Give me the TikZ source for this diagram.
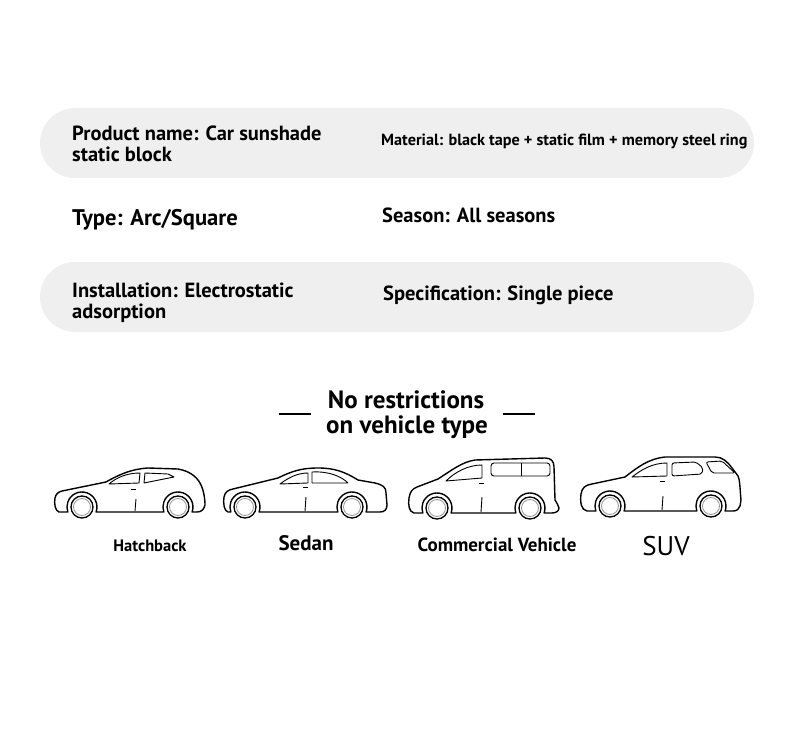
\documentclass[tikz,border=0pt]{standalone}
\usepackage{fontspec}
\setmainfont{PT Sans}
\definecolor{panelgray}{RGB}{239,239,239}
\definecolor{hubgray}{RGB}{150,150,150}
\def\wheel(#1,#2){\draw[line width=1.3pt] (#1,#2) circle (11pt); \draw[line width=0.8pt, color=hubgray] (#1,#2) circle (8.5pt);}
\tikzset{
  spec/.style={anchor=base west, inner sep=0pt, font=\bfseries\fontsize{20.5}{24}\selectfont},
  cartype/.style={anchor=base, inner sep=0pt, font=\bfseries\fontsize{16.5}{19}\selectfont},
  carline/.style={line width=1.4pt, line join=round},
  trim/.style={line width=0.9pt, line join=round}
}

\begin{document}
\begin{tikzpicture}[x=1pt, y=-1pt]
			%%%%% START %%%%%
			\useasboundingbox (0,0) rectangle (790,730);
			
			\fill[panelgray, rounded corners=35pt] (40,108) rectangle (754,178);
			\fill[panelgray, rounded corners=35pt] (40,262) rectangle (754,332);
			
			\node[spec] (prodname) at (72,141) {Product name: Car sunshade};
			\node[spec] (prodname2) at (72,162) {static block};
			\node[spec, font=\bfseries\fontsize{16.2}{19}\selectfont] (material) at (381,146) {Material: black tape + static film + memory steel ring};
			\node[spec, font=\bfseries\fontsize{22.6}{26}\selectfont] (type) at (72,226) {Type: Arc/Square};
			\node[spec] (season) at (382,223) {Season: All seasons};
			\node[spec] (install) at (72,297) {Installation: Electrostatic};
			\node[spec] (install2) at (72,318) {adsorption};
			\node[spec] (spec) at (383,300) {Specification: Single piece};
			
			\node[anchor=base, inner sep=0pt, font=\bfseries\fontsize{25}{29}\selectfont] (title) at (406,408) {No restrictions};
			\node[anchor=base, inner sep=0pt, font=\bfseries\fontsize{25}{29}\selectfont] (title2) at (407,433) {on vehicle type};
			\draw[line width=1.5pt] (279,414) -- (311,414);
			\draw[line width=1.5pt] (503,414) -- (535,414);
			
			% hatchback
			\draw[carline] (67.9,512) -- (59,512) .. controls (55,511) and (54,503) .. (55,498) .. controls (56,494) and (58,492) .. (62,491)
				-- (106,482) .. controls (120,474) and (132,469) .. (148,468) -- (178,469) .. controls (189,471) and (196,476) .. (200,483)
				.. controls (204,490) and (205,500) .. (205,505) .. controls (204,509) and (202,512) .. (197,512) -- (192.1,512)
				arc (-19.5:199.5:15pt) -- (96.1,512) arc (-19.5:199.5:15pt) -- cycle;
			\draw[trim] (109,484) -- (139,483) -- (140,473) .. controls (126,473) and (116,478) .. cycle;
			\draw[trim] (144,483) -- (145,473) -- (168,474) .. controls (170,475) and (172,476) .. (174,477) -- cycle;
			\draw[trim] (131,489) -- (136,489);
			\draw[trim] (136,499) -- (135,511);
			\wheel(82,507)
			\wheel(178,507)
			
			% sedan
			\draw[carline] (230.9,512) -- (228,512) .. controls (224,511) and (223,503) .. (224,497) .. controls (225,492) and (228,490) .. (233,489)
				-- (278,478) .. controls (292,471) and (302,468) .. (318,468) .. controls (335,468) and (345,472) .. (358,480)
				-- (375,483) .. controls (383,485) and (386,487) .. (386,493) -- (387,505) .. controls (387,510) and (384,512) .. (380,512)
				-- (366.1,512) arc (-19.5:199.5:15pt) -- (259.1,512) arc (-19.5:199.5:15pt) -- cycle;
			\draw[trim] (280,484) -- (308,483) -- (308,473) .. controls (297,473) and (288,478) .. cycle;
			\draw[trim] (312,483) -- (312,472) .. controls (330,471) and (342,477) .. (348,483) -- cycle;
			\draw[trim] (303,487) -- (308,487);
			\draw[trim] (306,497) -- (305,511);
			\wheel(245,507)
			\wheel(352,507)
			
			% commercial vehicle
			\draw[carline] (422.9,513) -- (414,513) .. controls (409,512) and (408,505) .. (409,498) .. controls (410,492) and (412,489) .. (417,487)
				-- (438,479) .. controls (452,470) and (462,462) .. (475,460) -- (545,458) .. controls (551,458) and (554,461) .. (554,467)
				-- (555,500) .. controls (556,503) and (559,505) .. (559,508) .. controls (559,511) and (556,513) .. (552,513)
				-- (544.1,513) arc (-19.5:199.5:15pt) -- (451.1,513) arc (-19.5:199.5:15pt) -- cycle;
			\draw[trim] (446,481) -- (482,478) -- (482,465) .. controls (468,465) and (455,472) .. cycle;
			\draw[trim, rounded corners=3pt] (491,463) rectangle (550,476);
			\draw[trim] (521,463) -- (521,476);
			\draw[trim] (479,483) -- (484,483);
			\draw[trim] (482,497) -- (481,512);
			\wheel(437,508)
			\wheel(530,508)
			
			% suv
			\draw[carline] (595.9,511) -- (587,511) .. controls (581,510) and (580,502) .. (581,494) .. controls (582,488) and (585,485) .. (592,484)
				-- (625,477) .. controls (638,467) and (648,459) .. (665,457) -- (715,457) .. controls (722,457) and (727,461) .. (732,468)
				-- (738,476) .. controls (740,480) and (740,490) .. (741,500) -- (740,506) .. controls (739,509) and (737,511) .. (733,511)
				-- (725.1,511) arc (-19.5:199.5:15pt) -- (624.1,511) arc (-19.5:199.5:15pt) -- cycle;
			\draw[trim] (632,477) -- (667,476) -- (667,463) .. controls (652,463) and (641,470) .. cycle;
			\draw[trim, rounded corners=2pt] (672,476) -- (672,463) -- (696,462) -- (703,468) -- (702,474) -- cycle;
			\draw[trim, rounded corners=2pt] (706,462) -- (722,461) -- (735,473) -- (712,473) -- cycle;
			\draw[trim] (660,481) -- (665,481);
			\draw[trim] (663,496) -- (662,510);
			\wheel(610,506)
			\wheel(711,506)
			
			\node[cartype] (hatch) at (150,551) {Hatchback};
			\node[cartype, font=\bfseries\fontsize{21}{24}\selectfont] (sedan) at (306,550) {Sedan};
			\node[cartype, font=\bfseries\fontsize{19}{22}\selectfont] (commercial) at (497,551) {Commercial Vehicle};
			\node[cartype, font=\fontsize{27}{30}\selectfont] (suv) at (666,555) {SUV};
			%%%%% END %%%%%
\end{tikzpicture}
\end{document}
